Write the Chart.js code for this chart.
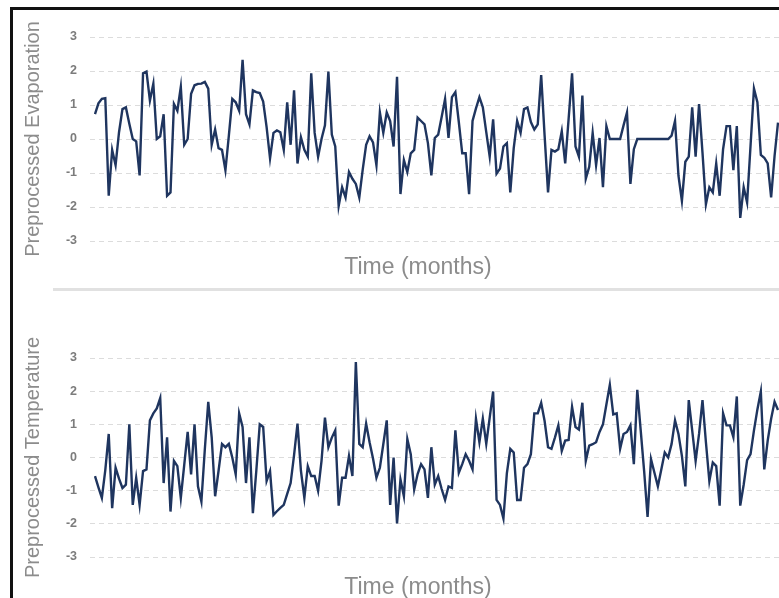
<!DOCTYPE html>
<html>
<head>
<meta charset="utf-8">
<script src="https://cdn.jsdelivr.net/npm/chart.js@4/dist/chart.umd.min.js"></script>
<style>
  html, body { margin: 0; padding: 0; background: #fff; }
  body { width: 779px; height: 598px; overflow: hidden; position: relative; }
  .frame { position: absolute; left: 10px; top: 7px; width: 820px; height: 640px;
           border-left: 3px solid #111; border-top: 3px solid #111; box-sizing: border-box; }
  .divider { position: absolute; left: 53px; top: 288px; width: 760px; height: 3px; background: #e1e1e1; }
  .panel { position: absolute; left: 0; }
  #evapWrap { top: 0; width: 836px; height: 288px; }
  #tempWrap { top: 300px; width: 836px; height: 308px; }
</style>
</head>
<body>
<div class="frame"></div>
<div class="divider"></div>
<div class="panel" id="evapWrap"><canvas id="evap"></canvas></div>
<div class="panel" id="tempWrap"><canvas id="temp"></canvas></div>
<script>
// Month index along the horizontal axis
const months = Array.from({ length: 200 }, (_, i) => i + 1);

// Standardised monthly evaporation
const evaporation = [
  0.73, 1.05, 1.18, 1.2, -1.67, -0.32, -0.77, 0.2, 0.88, 0.93,
  0.45, 0.0, -0.07, -1.07, 1.93, 1.98, 1.13, 1.63, 0.0, 0.08,
  0.73, -1.67, -1.57, 1.03, 0.83, 1.53, -0.17, 0.0, 1.33, 1.58,
  1.62, 1.63, 1.68, 1.48, -0.17, 0.28, -0.27, -0.32, -0.92, 0.1,
  1.18, 1.08, 0.83, 2.33, 0.73, 0.43, 1.43, 1.38, 1.35, 1.1,
  0.35, -0.57, 0.18, 0.25, 0.2, -0.32, 1.08, -0.17, 1.43, -0.72,
  0.05, -0.32, -0.52, 1.93, 0.18, -0.52, 0.0, 0.4, 1.98, 0.13,
  -0.22, -1.97, -1.42, -1.72, -0.97, -1.17, -1.32, -1.72, -0.9, -0.17,
  0.08, -0.1, -0.77, 0.78, 0.18, 0.78, 0.53, -0.22, 1.83, -1.62,
  -0.62, -0.97, -0.42, -0.32, 0.63, 0.53, 0.43, -0.12, -1.07, 0.03,
  0.13, 0.65, 1.18, 0.03, 1.23, 1.38, 0.5, -0.42, -0.42, -1.62,
  0.53, 0.9, 1.23, 0.93, 0.2, -0.52, 0.58, -1.02, -0.87, -0.22,
  -0.12, -1.57, -0.27, 0.53, 0.18, 0.88, 0.93, 0.5, 0.28, 0.43,
  1.88, 0.1, -1.57, -0.32, -0.37, -0.3, 0.23, -0.72, 0.6, 1.93,
  -0.22, -0.52, 1.28, -1.17, -0.82, 0.18, -0.77, 0.03, -1.42, 0.38,
  0.0, 0.0, 0.0, 0.0, 0.4, 0.78, -1.32, -0.3, 0.0, 0.0,
  0.0, 0.0, 0.0, 0.0, 0.0, 0.0, 0.0, 0.0, 0.1, 0.53,
  -1.08, -1.82, -0.67, -0.52, 0.93, -0.52, 1.03, -0.4, -1.92, -1.42,
  -1.57, -0.72, -1.67, -0.3, 0.38, 0.38, -0.92, 0.38, -2.32, -1.42,
  -1.87, -0.2, 1.48, 1.08, -0.47, -0.55, -0.72, -1.72, -0.5, 0.48
];

// Standardised monthly temperature
const temperature = [
  -0.56, -0.9, -1.22, -0.38, 0.71, -1.53, -0.31, -0.64, -0.92, -0.82,
  1.0, -1.43, -0.61, -1.43, -0.41, -0.36, 1.12, 1.33, 1.48, 1.79,
  -0.77, 0.61, -1.63, -0.1, -0.26, -1.22, -0.22, 0.77, -0.51, 1.0,
  -0.87, -1.33, 0.25, 1.68, 0.61, -1.17, -0.4, 0.41, 0.31, 0.41,
  0.0, -0.51, 1.33, 0.92, -0.77, 0.61, -1.68, -0.4, 1.0, 0.92,
  -0.71, -0.41, -1.73, -1.62, -1.52, -1.43, -1.1, -0.77, 0.07, 1.02,
  -0.4, -1.22, -0.26, -0.56, -0.56, -1.0, -0.1, 1.2, 0.31, 0.6,
  0.82, -1.45, -0.61, -0.61, 0.05, -0.56, 2.88, 0.41, 0.31, 1.02,
  0.46, -0.03, -0.61, -0.31, 0.4, 1.12, -1.43, 0.0, -1.99, -0.66,
  -1.17, 0.56, 0.1, -0.97, -0.5, -0.2, -0.36, -1.22, 0.31, -0.82,
  -0.56, -0.95, -1.28, -0.87, -0.92, 0.82, -0.46, -0.2, 0.1, -0.1,
  -0.36, 1.17, 0.46, 1.17, 0.41, 1.2, 1.99, -1.28, -1.43, -1.84,
  -0.48, 0.26, 0.15, -1.28, -1.28, -0.31, -0.2, 0.1, 1.33, 1.33,
  1.65, 1.1, 0.31, 0.26, 0.6, 0.97, 0.2, 0.51, 0.53, 1.53,
  0.92, 0.84, 1.65, -0.1, 0.36, 0.4, 0.46, 0.77, 1.0, 1.6,
  2.19, 1.3, 1.33, 0.26, 0.71, 0.77, 0.97, -0.2, 2.04, 0.82,
  -0.41, -1.79, -0.05, -0.46, -0.87, -0.36, 0.15, 0.0, 0.41, 1.12,
  0.71, 0.05, -0.87, 1.73, 0.82, -0.1, 0.71, 1.73, 0.46, -0.71,
  -0.15, -0.26, -1.45, 1.33, 0.97, 0.97, 0.61, 1.84, -1.45, -0.82,
  -0.08, 0.1, 0.82, 1.45, 1.99, -0.36, 0.51, 1.17, 1.68, 1.43
];

const yTicks = [-3, -2, -1, 0, 1, 2, 3];

const FONT = "'Liberation Sans', Arial, sans-serif";
const LINE_COLOR = '#1f355f';

function buildChart(canvasId, values, yTitle, cfg) {
  const points = months.map((m, i) => ({ x: m, y: values[i] }));
  return new Chart(document.getElementById(canvasId), {
    type: 'line',
    data: {
      datasets: [{
        data: points,
        borderColor: LINE_COLOR,
        borderWidth: 2.4,
        pointRadius: 0,
        tension: 0,
        fill: false
      }]
    },
    options: {
      responsive: true,
      maintainAspectRatio: false,
      animation: false,
      events: [],
      layout: { padding: { top: cfg.padTop, left: 0, right: 0, bottom: 0 } },
      plugins: {
        legend: { display: false },
        tooltip: { enabled: false },
        title: {
          display: true,
          position: 'bottom',
          text: 'Time (months)',
          color: '#8c8c8c',
          font: { family: FONT, size: 23, weight: 'normal' },
          padding: { top: cfg.titleGap, bottom: cfg.titleBottom }
        }
      },
      scales: {
        x: {
          type: 'linear',
          display: false,
          min: -0.457,
          max: 216.9
        },
        y: {
          min: yTicks[0],
          max: yTicks[yTicks.length - 1],
          afterBuildTicks: (scale) => { scale.ticks = yTicks.map(v => ({ value: v })); },
          afterFit: (scale) => { scale.width = 90; },
          grid: {
            color: '#dcdcdc',
            lineWidth: 1,
            drawTicks: false
          },
          border: { display: false, dash: [5, 4] },
          ticks: {
            padding: 13,
            color: '#7c7c7c',
            font: { family: FONT, size: 12.5, weight: 'bold' }
          },
          title: {
            display: true,
            text: yTitle,
            color: '#8c8c8c',
            font: { family: FONT, size: 20, weight: 'normal' },
            padding: { top: 21, bottom: 0 }
          }
        }
      }
    }
  });
}

buildChart('evap', evaporation, 'Preprocessed Evaporation', { padTop: 37, titleGap: 13, titleBottom: 6.4 });
buildChart('temp', temperature, 'Preprocessed Temperature', { padTop: 58, titleGap: 17, titleBottom: 6.4 });
</script>
</body>
</html>
